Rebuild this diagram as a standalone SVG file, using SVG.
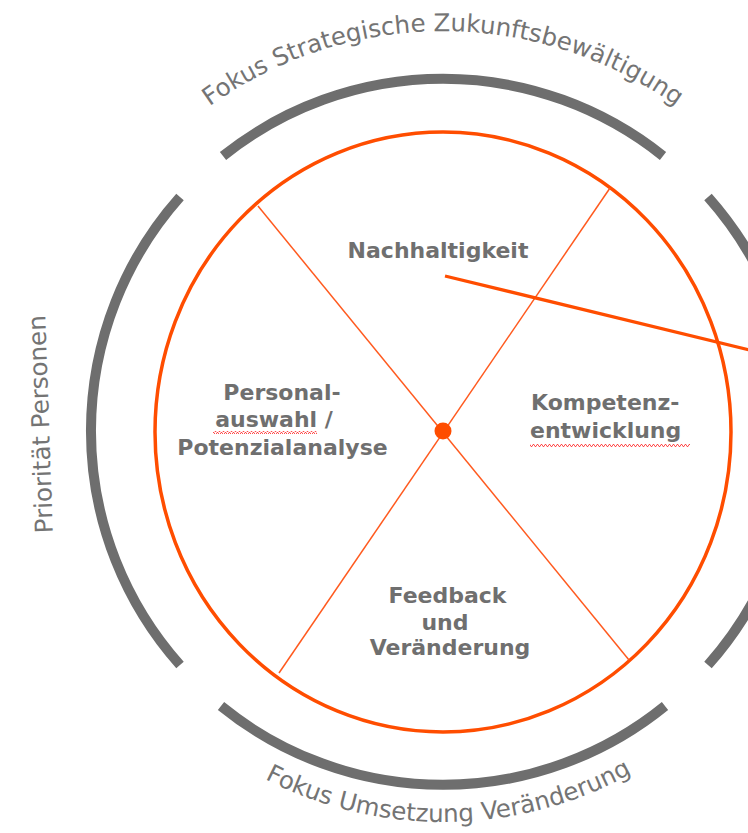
<svg xmlns="http://www.w3.org/2000/svg" width="748" height="833" viewBox="0 0 748 833">
  <style>
    .ring { fill: none; stroke: #6e6e6e; stroke-width: 10; stroke-linecap: butt; }
    .arcLabel { font-family: "DejaVu Sans", Verdana, sans-serif; font-size: 24.5px; fill: #747474; }
    .seg { font-family: "DejaVu Sans", Verdana, sans-serif; font-size: 22px; font-weight: bold; fill: #6f6f6f; }
    .spoke { stroke: #ff5a1f; stroke-width: 1.5; fill: none; }
  </style>
  <defs>
    <path id="topPath" d="M 43 431 A 400 400 0 0 1 843 431"/>
    <path id="bottomPath" d="M 52 431 A 391 391 0 0 0 834 431"/>
    <pattern id="wavy" x="0" y="0" width="4" height="3" patternUnits="userSpaceOnUse">
      <path d="M0 2.5 L1 0.5 L2 0.5 L3 2.5 L4 2.5" fill="none" stroke="#ff3b3b" stroke-width="0.9"/>
    </pattern>
  </defs>
  <rect width="748" height="833" fill="#ffffff"/>

  <!-- outer ring arcs -->
  <g id="ring-top"><path class="ring" d="M 223 156 A 352 352 0 0 1 663 156"/></g>
  <g id="ring-left"><path class="ring" d="M 180 197 A 352 352 0 0 0 180 665"/></g>
  <g id="ring-right"><path class="ring" d="M 708 197 A 352 352 0 0 1 708 665"/></g>
  <g id="ring-bottom"><path class="ring" d="M 221 706 A 352 352 0 0 0 665 706"/></g>

  <!-- orange circle -->
  <g id="wheel">
    <ellipse cx="443" cy="432" rx="288" ry="300" fill="none" stroke="#ff4d00" stroke-width="3.5"/>
  </g>

  <!-- connectors -->
  <g id="connectors">
    <line class="spoke" x1="258" y1="206" x2="629" y2="660"/>
    <line class="spoke" x1="610" y1="188" x2="279" y2="673"/>
    <line x1="445" y1="276" x2="770" y2="355" stroke="#ff4d00" stroke-width="3.3"/>
  </g>
  <g id="center"><circle cx="443" cy="431" r="8.5" fill="#ff4d00"/></g>

  <!-- segment nodes -->
  <g id="nachhaltigkeit">
    <text class="seg" x="438" y="258" text-anchor="middle">Nachhaltigkeit</text>
  </g>
  <g id="personalauswahl">
    <text class="seg" x="282" y="400" text-anchor="middle">Personal-</text>
    <text class="seg" x="274" y="427" text-anchor="middle">auswahl /</text>
    <text class="seg" x="282.5" y="455" text-anchor="middle">Potenzialanalyse</text>
    <rect x="213" y="431" width="104" height="3" fill="url(#wavy)"/>
  </g>
  <g id="kompetenzentwicklung">
    <text class="seg" x="531" y="410">Kompetenz-</text>
    <text class="seg" x="530" y="438">entwicklung</text>
    <rect x="530" y="444" width="160" height="3" fill="url(#wavy)"/>
  </g>
  <g id="feedback">
    <text class="seg" x="447.5" y="603" text-anchor="middle">Feedback</text>
    <text class="seg" x="445" y="630" text-anchor="middle">und</text>
    <text class="seg" x="450" y="655" text-anchor="middle">Veränderung</text>
  </g>

  <!-- outer labels -->
  <g id="label-top">
    <text class="arcLabel"><textPath href="#topPath" startOffset="50%" text-anchor="middle">Fokus Strategische Zukunftsbewältigung</textPath></text>
  </g>
  <g id="label-bottom">
    <text class="arcLabel"><textPath href="#bottomPath" startOffset="50.5%" text-anchor="middle">Fokus Umsetzung Veränderung</textPath></text>
  </g>
  <g id="label-left">
    <text class="arcLabel" x="49" y="424" text-anchor="middle" transform="rotate(-92 49 424)">Priorität Personen</text>
  </g>
</svg>
